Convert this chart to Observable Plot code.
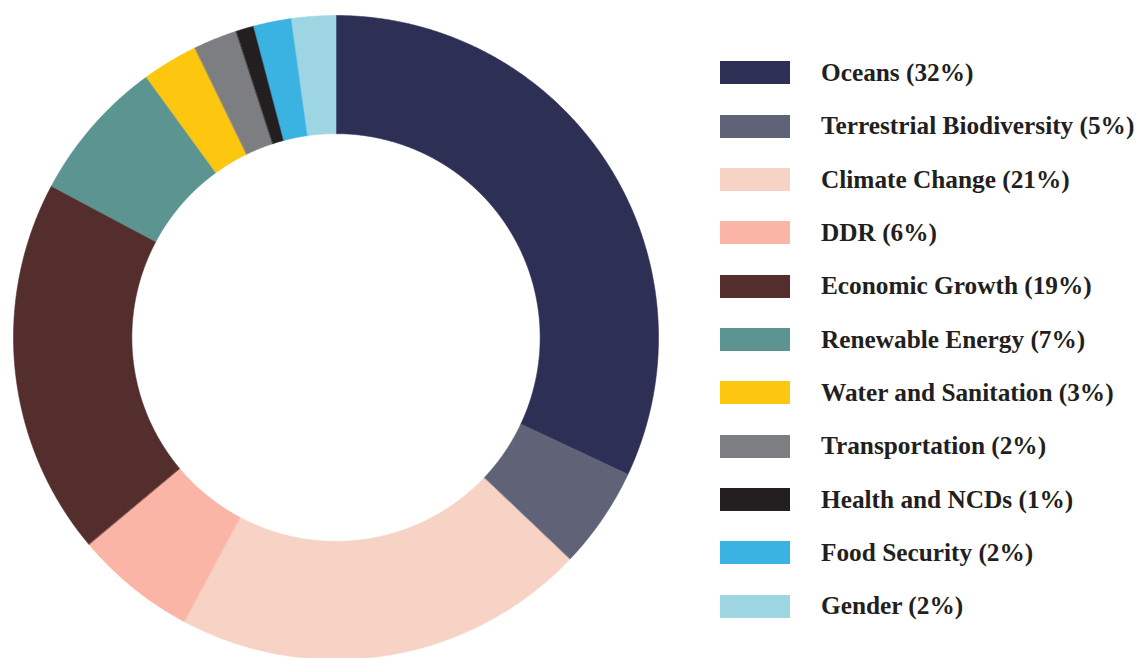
<!DOCTYPE html>
<html>
<head>
<meta charset="utf-8">
<script src="https://cdn.jsdelivr.net/npm/d3@7"></script>
<script src="https://cdn.jsdelivr.net/npm/@observablehq/plot@0.6"></script>
<style>
  html, body { margin: 0; padding: 0; background: #fff; }
  #wrap { position: relative; width: 1145px; height: 658px; overflow: hidden; }
  #chart { position: absolute; left: 0; top: 0; }
  #legend { position: absolute; left: 720px; top: 46px; font-family: "Liberation Serif", serif; font-weight: bold; font-size: 25.3px; color: #231f20; }
  .row { display: flex; align-items: center; height: 53.35px; }
  .sw { width: 70px; height: 23px; margin-right: 31px; flex: none; }
  .lab { white-space: nowrap; line-height: 1; position: relative; top: 0px; }
</style>
</head>
<body>
<div id="wrap"><div id="chart"></div><div id="legend"></div></div>
<script>
const categories = ["Oceans", "Terrestrial Biodiversity", "Climate Change", "DDR", "Economic Growth", "Renewable Energy", "Water and Sanitation", "Transportation", "Health and NCDs", "Food Security", "Gender"];
const shares = [32, 5.1, 20.7, 6.1, 18.9, 7.2, 2.8, 2.2, 0.9, 1.9, 2.2];
const labelPct = ["32%", "5%", "21%", "6%", "19%", "7%", "3%", "2%", "1%", "2%", "2%"];
const colors = ["#2d2f55", "#606278", "#f6d3c5", "#fbb5a6", "#532e2c", "#5b9490", "#fdc60f", "#7d7e82", "#231f20", "#3ab3e2", "#9dd6e2"];

const innerRatio = 0.633;
const arcs = d3.pie().sort(null).value(d => d.v)(categories.map((c, i) => ({c, v: shares[i]})));
const pts = [];
for (const a of arcs) {
  const n = Math.max(8, Math.ceil((a.endAngle - a.startAngle) / 0.004));
  for (let k = 0; k <= n; k++) {
    const t = a.startAngle + (a.endAngle - a.startAngle) * k / n;
    pts.push({c: a.data.c, x: Math.sin(t), y: Math.cos(t)});
  }
  for (let k = n; k >= 0; k--) {
    const t = a.startAngle + (a.endAngle - a.startAngle) * k / n;
    pts.push({c: a.data.c, x: innerRatio * Math.sin(t), y: innerRatio * Math.cos(t)});
  }
}

const chart = Plot.plot({
  width: 680,
  height: 658,
  margin: 0,
  x: {domain: [-1, 1], range: [13, 658], axis: null},
  y: {domain: [-1, 1], range: [659, 15], axis: null},
  color: {domain: categories, range: colors},
  marks: [
    Plot.line(pts, {x: "x", y: "y", z: "c", fill: "c", stroke: "c", strokeWidth: 0.6, curve: "linear-closed"})
  ]
});
document.getElementById("chart").appendChild(chart);

const legend = document.getElementById("legend");
categories.forEach((c, i) => {
  const row = document.createElement("div");
  row.className = "row";
  const sw = document.createElement("div");
  sw.className = "sw";
  sw.style.background = colors[i];
  const lab = document.createElement("div");
  lab.className = "lab";
  lab.textContent = `${c} (${labelPct[i]})`;
  row.appendChild(sw);
  row.appendChild(lab);
  legend.appendChild(row);
});
</script>
</body>
</html>
